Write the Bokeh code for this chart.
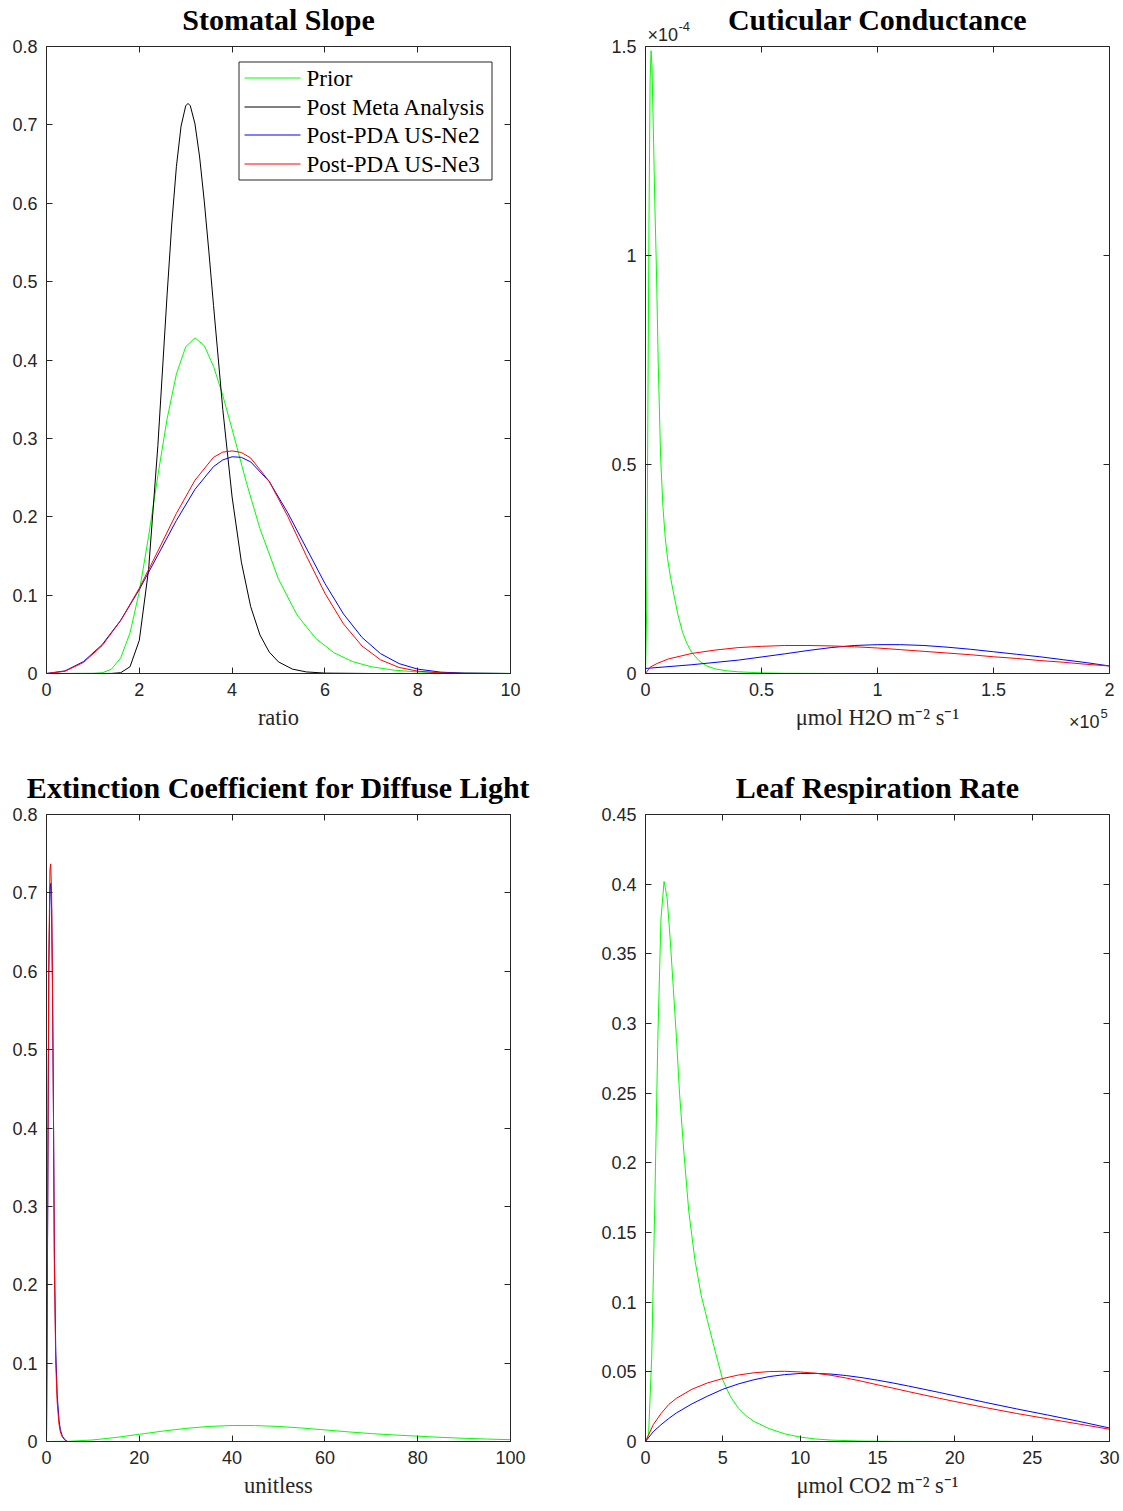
from bokeh.plotting import figure
from bokeh.models import Range1d, LinearAxis, FixedTicker, CustomJSTickFormatter
from bokeh.core.properties import value
from bokeh.layouts import column, row
from bokeh.embed import file_html
from bokeh.resources import INLINE

# ---------------- Stomatal Slope ----------------
slope_prior_x = [0, 1.0, 1.2, 1.4, 1.6, 1.8, 2.0, 2.2, 2.4, 2.6, 2.8, 3.0, 3.2, 3.4, 3.6,
                 3.8, 4.0, 4.3, 4.6, 5.0, 5.4, 5.8, 6.2, 6.6, 7.0, 7.5, 8.0, 9.0, 10.0]
slope_prior_y = [0, 0.0001, 0.0009, 0.0055, 0.0200, 0.0518, 0.1045, 0.1749, 0.2526, 0.3251,
                 0.3821, 0.4169, 0.4282, 0.4183, 0.3919, 0.3547, 0.3117, 0.2454, 0.1849,
                 0.1203, 0.0747, 0.0449, 0.0263, 0.0151, 0.0086, 0.0042, 0.0020, 0.0005, 0.0001]

slope_meta_x = [0, 1.4, 1.6, 1.8, 2.0, 2.2, 2.4, 2.6, 2.7, 2.8, 2.9, 3.0, 3.05, 3.1, 3.2, 3.3,
                3.4, 3.5, 3.6, 3.8, 4.0, 4.2, 4.4, 4.6, 4.8, 5.0, 5.3, 5.6, 6.0, 7.0, 10.0]
slope_meta_y = [0, 0.0001, 0.0010, 0.0086, 0.0423, 0.1324, 0.2907, 0.4840, 0.5736, 0.6469,
                0.6983, 0.7242, 0.7274, 0.7243, 0.7012, 0.6590, 0.6028, 0.5379, 0.4694,
                0.3366, 0.2252, 0.1421, 0.0854, 0.0492, 0.0274, 0.0148, 0.0056, 0.0020,
                0.0005, 0.0, 0.0]

slope_pda_x = [0, 0.4, 0.8, 1.2, 1.6, 2.0, 2.4, 2.8, 3.2, 3.6, 3.8, 4.0, 4.2, 4.4, 4.8, 5.2,
               5.6, 6.0, 6.4, 6.8, 7.2, 7.6, 8.0, 8.5, 9.0, 10.0]
slope_ne2_y = [0, 0.0033, 0.0153, 0.0369, 0.0680, 0.1071, 0.1511, 0.1953, 0.2350, 0.2640,
               0.2725, 0.2765, 0.2758, 0.2700, 0.2450, 0.2050, 0.1600, 0.1149, 0.0760,
               0.0460, 0.0253, 0.0126, 0.0056, 0.0017, 0.0005, 0.0]
slope_ne3_y = [0, 0.0029, 0.0142, 0.0356, 0.0676, 0.1088, 0.1561, 0.2043, 0.2466, 0.2759,
               0.2825, 0.2840, 0.2820, 0.2750, 0.2451, 0.2005, 0.1502, 0.1025, 0.0633,
               0.0351, 0.0174, 0.0077, 0.0030, 0.0007, 0.0002, 0.0]

# ---------------- Cuticular Conductance ----------------
cut_prior_x = [0, 500, 1000, 1500, 2000, 2400, 2800, 3500, 4000, 4700, 5500, 6500, 7500,
               8500, 9500, 10800, 12000, 14000, 16000, 18000, 20000, 23000, 26000, 30000,
               35000, 40000, 50000, 60000, 80000, 200000]
cut_prior_y = [0, 0.15e-4, 0.60e-4, 1.08e-4, 1.42e-4, 1.49e-4, 1.45e-4, 1.27e-4, 1.13e-4,
               0.97e-4, 0.74e-4, 0.52e-4, 0.40e-4, 0.325e-4, 0.275e-4, 0.23e-4, 0.195e-4,
               0.14e-4, 0.098e-4, 0.070e-4, 0.050e-4, 0.031e-4, 0.019e-4, 0.011e-4,
               0.0065e-4, 0.004e-4, 0.0015e-4, 0.0005e-4, 0.0001e-4, 0]

cut_ne2_x = [0, 20000, 40000, 60000, 70000, 80000, 90000, 100000, 110000, 120000, 130000,
             140000, 150000, 160000, 170000, 180000, 190000, 200000]
cut_ne2_y = [0.012e-4, 0.021e-4, 0.032e-4, 0.047e-4, 0.055e-4, 0.062e-4, 0.067e-4, 0.069e-4,
             0.069e-4, 0.067e-4, 0.063e-4, 0.058e-4, 0.052e-4, 0.046e-4, 0.040e-4, 0.033e-4,
             0.026e-4, 0.018e-4]

cut_ne3_x = [0, 2000, 5000, 10000, 20000, 30000, 40000, 50000, 60000, 70000, 80000, 90000,
             100000, 110000, 120000, 130000, 140000, 150000, 160000, 170000, 180000, 190000,
             200000]
cut_ne3_y = [0, 0.015e-4, 0.024e-4, 0.035e-4, 0.048e-4, 0.056e-4, 0.062e-4, 0.065e-4,
             0.067e-4, 0.067e-4, 0.066e-4, 0.064e-4, 0.061e-4, 0.057e-4, 0.053e-4, 0.049e-4,
             0.045e-4, 0.040e-4, 0.036e-4, 0.031e-4, 0.027e-4, 0.022e-4, 0.018e-4]

# ---------------- Extinction Coefficient for Diffuse Light ----------------
ext_prior_x = [0, 5, 10, 15, 20, 25, 30, 35, 40, 45, 50, 55, 60, 65, 70, 75, 80, 85, 90, 95, 100]
ext_prior_y = [0, 0.0003, 0.0020, 0.0052, 0.0092, 0.0132, 0.0167, 0.0192, 0.0204, 0.0203,
               0.0192, 0.0172, 0.0148, 0.0123, 0.0101, 0.0083, 0.0068, 0.0053, 0.0041,
               0.0031, 0.0023]

ext_pda_x = [0, 0.25, 0.5, 0.75, 0.9, 1.1, 1.3, 1.5, 1.7, 2.0, 2.3, 2.7, 3.0, 3.4, 4.0, 4.5, 100]
ext_ne2_y = [0, 0.28, 0.60, 0.705, 0.712, 0.68, 0.57, 0.42, 0.24, 0.115, 0.06, 0.027, 0.015,
             0.007, 0.002, 0, 0]
ext_ne3_y = [0, 0.30, 0.62, 0.73, 0.737, 0.70, 0.58, 0.42, 0.22, 0.10, 0.05, 0.022, 0.012,
             0.006, 0.0015, 0, 0]

# ---------------- Leaf Respiration Rate ----------------
resp_prior_x = [0, 0.2, 0.4, 0.6, 0.8, 1.0, 1.2, 1.4, 1.6, 1.8, 2.0, 2.2, 2.5, 2.8, 3.2, 3.6,
                4.0, 4.5, 5.0, 5.5, 6.0, 6.5, 7.0, 8.0, 9.0, 10, 11, 12, 14, 16, 20, 30]
resp_prior_y = [0, 0.005, 0.06, 0.17, 0.29, 0.375, 0.402, 0.39, 0.36, 0.325, 0.29, 0.25,
                0.205, 0.165, 0.13, 0.105, 0.087, 0.065, 0.044, 0.032, 0.024, 0.0185, 0.0145,
                0.0092, 0.0055, 0.0032, 0.0018, 0.001, 0.0003, 0.0001, 0, 0]

resp_pda_x = [0, 0.5, 1, 1.5, 2, 3, 4, 5, 6, 7, 8, 9, 10, 11, 12, 13, 14, 15, 16, 17, 18, 19,
              20, 22, 24, 26, 28, 30]
resp_ne2_y = [0, 0.007, 0.012, 0.0165, 0.0205, 0.027, 0.0325, 0.0375, 0.0413, 0.0443, 0.0466,
              0.048, 0.0488, 0.0489, 0.0484, 0.0473, 0.0458, 0.0440, 0.0420, 0.0398, 0.0375,
              0.0352, 0.0328, 0.0280, 0.0234, 0.0190, 0.0145, 0.0097]
resp_ne3_y = [0, 0.012, 0.020, 0.0265, 0.031, 0.0375, 0.042, 0.0452, 0.0477, 0.0493, 0.0502,
              0.0504, 0.0499, 0.0490, 0.0475, 0.0455, 0.0432, 0.0407, 0.0383, 0.0358, 0.0334,
              0.0310, 0.0287, 0.0243, 0.0201, 0.0163, 0.0126, 0.0088]

legend_labels = ["Prior", "Post Meta Analysis", "Post-PDA US-Ne2", "Post-PDA US-Ne3"]

GREEN, BLACK, BLUE, RED = "#00ff00", "#000000", "#0000ff", "#ff0000"
series_colors = [GREEN, BLACK, BLUE, RED]
AX = "#262626"
SANS = "Liberation Sans"
SERIF = "Liberation Serif"
TICK_FONT = "18px"

# every axes box sits at the same offset inside its figure
FRAME_LEFT, FRAME_TOP, FRAME_W, FRAME_H = 46, 46, 464, 627

FMT_PLAIN = CustomJSTickFormatter(code="return String(Math.round(tick * 1000) / 1000);")


def style_axis(ax, ticks, fmt, labels=True):
    ax.ticker = FixedTicker(ticks=ticks)
    ax.formatter = fmt
    ax.axis_line_color = AX
    ax.major_tick_line_color = AX
    ax.major_tick_in = 6
    ax.major_tick_out = 0
    ax.minor_tick_line_color = None
    ax.major_label_text_font = SANS
    ax.major_label_text_font_size = TICK_FONT
    ax.major_label_text_color = AX
    if labels:
        ax.major_label_standoff = 9
    else:
        # mirrored box side: ticks only
        ax.major_label_text_color = None
        ax.major_label_text_font_size = "1px"
        ax.major_label_standoff = 0


def overlay_text(p, x, y, txt, font, size, dx, dy, align="left", color=AX, style="normal",
                 baseline="alphabetic"):
    # text drawn on the overlay level so it may sit outside the axes box
    p.text(x=[x], y=[y], text=[txt], x_offset=dx, y_offset=dy,
           text_font=value(font), text_font_size=value(size), text_font_style=style,
           text_color=color, text_align=align, text_baseline=baseline, level="overlay")


def panel(title, xr, yr, xticks, yticks, xlabel, w, h, borders, xfmt, yfmt):
    left, right, top, bottom = borders
    p = figure(width=w, height=h, x_range=Range1d(*xr), y_range=Range1d(*yr),
               output_backend="svg", toolbar_location=None,
               min_border_left=left, min_border_right=right,
               min_border_top=top, min_border_bottom=bottom)
    p.xgrid.visible = False
    p.ygrid.visible = False
    p.outline_line_color = None
    p.background_fill_color = "white"
    p.border_fill_color = "white"
    style_axis(p.xaxis[0], xticks, xfmt)
    style_axis(p.yaxis[0], yticks, yfmt)
    p.xaxis[0].axis_label = xlabel
    p.xaxis[0].axis_label_text_font = SERIF
    p.xaxis[0].axis_label_text_font_style = "normal"
    p.xaxis[0].axis_label_text_font_size = "22.5px"
    p.xaxis[0].axis_label_text_color = AX
    p.xaxis[0].axis_label_standoff = 6
    top_ax = LinearAxis()
    style_axis(top_ax, xticks, xfmt, labels=False)
    p.add_layout(top_ax, "above")
    right_ax = LinearAxis()
    style_axis(right_ax, yticks, yfmt, labels=False)
    p.add_layout(right_ax, "right")
    # bold serif title centred over the axes box
    overlay_text(p, (xr[0] + xr[1]) / 2, yr[1], title, SERIF, "30px", 0, -27,
                 align="center", color="black", style="bold")
    return p


def add_box_legend(p, xr, yr, labels, colors, box_px, row_px, sample_px, text_px):
    """Boxed legend laid out in pixels relative to the axes box."""
    def to_x(px):
        return xr[0] + (px - FRAME_LEFT) * (xr[1] - xr[0]) / FRAME_W

    def to_y(py):
        return yr[1] - (py - FRAME_TOP) * (yr[1] - yr[0]) / FRAME_H

    bl, br, bt, bb = box_px
    p.quad(left=[to_x(bl)], right=[to_x(br)], top=[to_y(bt)], bottom=[to_y(bb)],
           fill_color="white", line_color=AX, line_width=1, level="overlay")
    ys = [to_y(r) for r in row_px]
    p.segment(x0=[to_x(sample_px[0])] * len(ys), y0=ys,
              x1=[to_x(sample_px[1])] * len(ys), y1=ys,
              line_color=colors, line_width=1, level="overlay")
    p.text(x=[to_x(text_px)] * len(ys), y=ys, text=labels,
           text_font=value(SERIF), text_font_size=value("23px"), text_color="black",
           text_align="left", text_baseline="middle", level="overlay")


TOP_H, BOT_H = 767, 744
LW = 1

# Stomatal Slope
p1 = panel("Stomatal Slope", (0, 10), (0, 0.8), [0, 2, 4, 6, 8, 10],
           [0, 0.1, 0.2, 0.3, 0.4, 0.5, 0.6, 0.7, 0.8], "ratio",
           561, TOP_H, (46, 51, 46, 94), FMT_PLAIN, FMT_PLAIN)
p1.line(slope_prior_x, slope_prior_y, line_color=GREEN, line_width=LW)
p1.line(slope_meta_x, slope_meta_y, line_color=BLACK, line_width=LW)
p1.line(slope_pda_x, slope_ne2_y, line_color=BLUE, line_width=LW)
p1.line(slope_pda_x, slope_ne3_y, line_color=RED, line_width=LW)
add_box_legend(p1, (0, 10), (0, 0.8), legend_labels, series_colors,
               box_px=(238.5, 491.5, 61.5, 179.5),
               row_px=[77.5, 106.5, 134.5, 163.5],
               sample_px=(244, 300), text_px=306)

# Cuticular Conductance
fmt_cut_x = CustomJSTickFormatter(code="return String(Math.round(tick / 1e5 * 1000) / 1000);")
fmt_cut_y = CustomJSTickFormatter(code="return String(Math.round(tick / 1e-4 * 1000) / 1000);")
p2 = panel("Cuticular Conductance", (0, 200000), (0, 1.5e-4),
           [0, 50000, 100000, 150000, 200000], [0, 0.5e-4, 1.0e-4, 1.5e-4],
           "\u03bcmol H2O m\u207b\u00b2 s\u207b\u00b9", 562, TOP_H, (84, 14, 46, 94),
           fmt_cut_x, fmt_cut_y)
p2.line(cut_prior_x, cut_prior_y, line_color=GREEN, line_width=LW)
p2.line(cut_ne2_x, cut_ne2_y, line_color=BLUE, line_width=LW)
p2.line(cut_ne3_x, cut_ne3_y, line_color=RED, line_width=LW)
overlay_text(p2, 0, 1.5e-4, "\u00d710", SANS, "18px", 2, -12)
overlay_text(p2, 0, 1.5e-4, "-4", SANS, "13px", 33, -20)
overlay_text(p2, 200000, 0, "\u00d710", SANS, "18px", -10, 48, align="right")
overlay_text(p2, 200000, 0, "5", SANS, "13px", -9, 40)

# Extinction Coefficient for Diffuse Light
p3 = panel("Extinction Coefficient for Diffuse Light", (0, 100), (0, 0.8),
           [0, 20, 40, 60, 80, 100], [0, 0.1, 0.2, 0.3, 0.4, 0.5, 0.6, 0.7, 0.8],
           "unitless", 561, BOT_H, (46, 51, 47, 70), FMT_PLAIN, FMT_PLAIN)
p3.line(ext_prior_x, ext_prior_y, line_color=GREEN, line_width=LW)
p3.line(ext_pda_x, ext_ne2_y, line_color=BLUE, line_width=LW)
p3.line(ext_pda_x, ext_ne3_y, line_color=RED, line_width=LW)

# Leaf Respiration Rate
p4 = panel("Leaf Respiration Rate", (0, 30), (0, 0.45), [0, 5, 10, 15, 20, 25, 30],
           [0, 0.05, 0.1, 0.15, 0.2, 0.25, 0.3, 0.35, 0.4, 0.45],
           "\u03bcmol CO2 m\u207b\u00b2 s\u207b\u00b9", 562, BOT_H, (84, 14, 47, 70),
           FMT_PLAIN, FMT_PLAIN)
p4.line(resp_prior_x, resp_prior_y, line_color=GREEN, line_width=LW)
p4.line(resp_pda_x, resp_ne2_y, line_color=BLUE, line_width=LW)
p4.line(resp_pda_x, resp_ne3_y, line_color=RED, line_width=LW)

layout = column(row(p1, p2), row(p3, p4))
open("out.html", "w").write(file_html(layout, INLINE, title="Parameter distributions"))
